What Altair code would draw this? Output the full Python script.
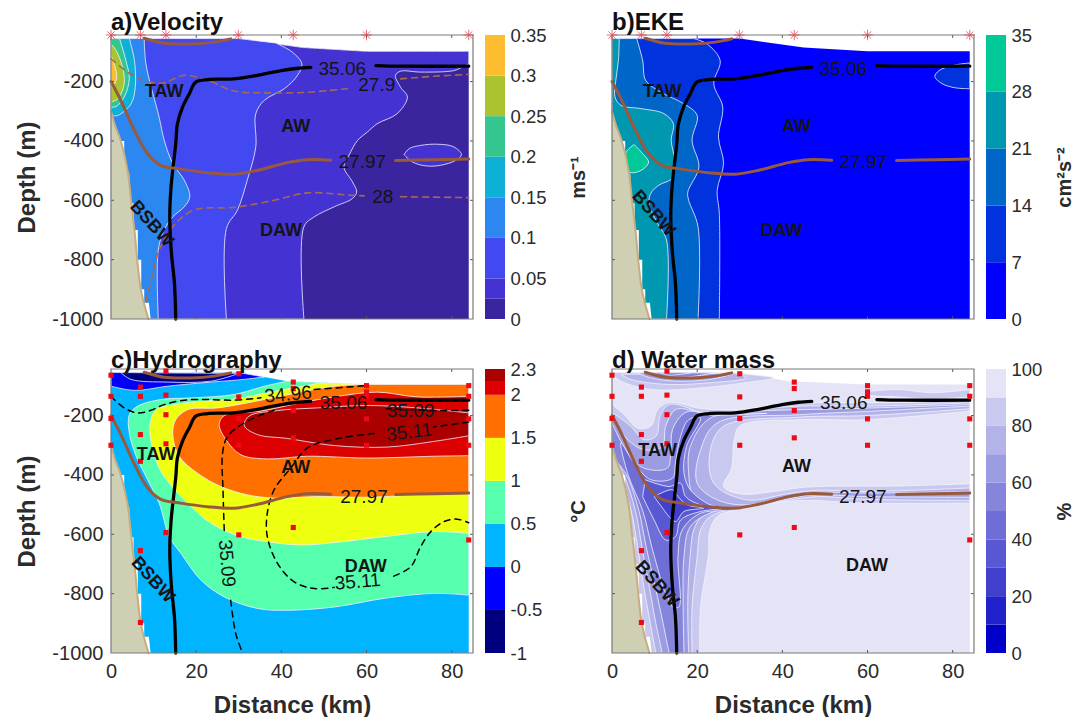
import altair as alt

FONT = "Liberation Sans"
W, H = 362, 284
XDOM, YDOM = [0, 85], [-1000, -43]
XT = [0, 20, 40, 60, 80]
YT = [-1000, -800, -600, -400, -200]

TOP = [(84, -98), (60, -98), (45, -85), (30, -55), (0, -55)]
TOPC = [(84, -95), (60, -95), (50, -89), (41.4, -84), (36, -70), (30, -55), (0, -55)]

# isolines shared by panels
S3506A = [(15.2, -1000), (14.9, -880), (14.2, -779), (13.8, -656), (14.1, -555), (15.2, -409), (15.6, -342), (16.8, -286), (18.4, -241), (19.9, -202), (22.7, -193), (28.9, -191), (34.4, -179), (39.9, -163), (43.8, -155), (46.9, -152)]
S3506B = [(62.2, -146), (68, -148), (84, -148)]
D2797A = [(0, -200), (2.3, -263), (5.5, -364), (8.6, -443), (11.7, -482), (16.4, -495), (22.7, -507), (28.9, -512), (34.4, -499), (41.4, -473), (46.1, -463), (51.6, -465)]
D2797B = [(66.8, -466), (75.8, -463), (84, -461)]
D279T = [(7.8, -54), (12.5, -71), (18.8, -73), (24.2, -67), (28.1, -56)]
D279A = [(0, -123), (3.9, -168), (7.8, -196), (12.1, -205), (17.2, -179), (22.7, -196), (28.9, -232), (36.7, -238), (46.1, -236), (55.5, -224)]
D279B = [(68, -191), (75.8, -182), (84, -176)]
D28A = [(8.2, -941), (9.8, -846), (11.3, -768), (14.5, -689), (19.5, -633), (28.9, -624), (38.3, -600), (46.1, -575), (56.3, -583), (59.4, -585)]
D28B = [(68, -588), (84, -591)]

LAND = [(0, -300), (1, -350), (2.3, -400), (3.9, -500), (4.7, -600), (5.5, -700), (7, -900), (8.8, -1000)]
STAIR = [(2.3, -400), (3.1, -400), (3.1, -510), (4.3, -510), (4.3, -610), (5.3, -610), (5.3, -700), (6.3, -700), (6.3, -800), (7.1, -800), (7.1, -900), (7.8, -900), (7.8, -945), (8.9, -945), (9.3, -1000), (8.8, -1000), (7, -900), (5.5, -700), (4.7, -600), (3.9, -500)]

STAR_X = [0, 6.9, 12.9, 29.9, 42.8, 60, 84]
STATIONS = {
    0: [-64, -135, -210, -300],
    6.9: [-104, -135, -264, -354, -655, -897],
    12.9: [-50, -131, -197, -295, -594],
    30: [-59, -137, -210, -300, -602],
    42.8: [-87, -109, -183, -275, -577],
    60: [-99, -120, -135, -211, -300],
    84: [-99, -135, -211, -300, -619],
}

# panel a
A_C = ["#3a259f", "#4433d2", "#4249f0", "#2c87f0", "#0fb0d5", "#35c690", "#aac430", "#fdbd30"]
A_B = [0, 0.025, 0.05, 0.1, 0.15, 0.2, 0.25, 0.3, 0.35]
A1 = [(45.3, -1000), (45.3, -689), (47.7, -656), (52.4, -622), (56.7, -594), (57.7, -572), (56.7, -538), (54.7, -488), (55.9, -448), (57.9, -398), (60.2, -370), (62.5, -342), (67.2, -308), (69.6, -252), (68, -219), (66.8, -179), (68, -165), (72.7, -168), (80.5, -163), (82.5, -151), (84, -140)]
A1E = [(84, -98), (60, -98), (45, -85), (30, -55), (0, -55), (0, -1000)]
A1B = [(68.8, -446), (70, -426), (72.7, -415), (76.6, -411), (80.5, -420), (82.3, -446), (81, -465), (77.4, -482), (73.9, -484), (70.8, -471), (68.8, -446)]
A2 = [(27.1, -1000), (27.1, -695), (29.7, -633), (32, -532), (34, -420), (34, -308), (36, -263), (40.7, -224), (43.8, -179), (44.8, -140), (42.6, -101), (38.7, -70)]
A2E = [(30, -55), (0, -55), (0, -1000)]
A3 = [(11.1, -1000), (11.1, -768), (12.5, -700), (14.5, -656), (17.2, -622), (18.5, -588), (17.2, -532), (14.5, -476), (12.5, -398), (11.3, -320), (8.2, -140), (7.8, -55)]
A3E = [(0, -55), (0, -1000)]
A4 = [(0, -314), (1.6, -314), (4.7, -275), (5.7, -219), (5.5, -129), (4.3, -55)]
A4E = [(0, -55)]
A5 = [(0, -286), (1.2, -284), (3.1, -252), (4.3, -191), (3.5, -129), (2, -55)]
A5E = [(0, -55)]
A6 = [(0, -269), (1.6, -258), (3.1, -207), (2.7, -151), (1.2, -95), (0, -73)]
A7 = [(0, -224), (1.3, -191), (0.9, -146), (0, -112)]

# panel b
B_C = ["#0000ff", "#0033dd", "#0066c8", "#0098b0", "#00c896"]
B_B = [0, 7, 14, 21, 28, 35]
B1 = [(25.2, -1000), (25.2, -644), (24.7, -566), (26.2, -476), (25, -387), (26, -286), (23.9, -207), (25.4, -129), (22.3, -73), (19.2, -55)]
B1E = [(0, -55), (0, -1000)]
B1B = [(84, -137), (79.9, -146), (76.8, -163), (75.8, -183), (77.5, -207), (80.6, -221), (84, -224)]
B2 = [(20.2, -1000), (20.2, -689), (18, -600), (17.8, -572), (20.4, -488), (18.8, -398), (20, -314), (16.9, -275), (11.4, -235), (7.9, -196), (7.2, -129), (5.8, -55)]
B2E = [(0, -55), (0, -1000)]
B3 = [(12.8, -1000), (12.8, -734), (10.7, -678), (8.7, -611), (9.1, -577), (11, -549), (14.2, -525), (14.7, -465), (13.9, -398), (14.4, -342), (12.2, -308), (6.8, -291), (2.1, -280), (0.7, -252), (0.9, -196), (1.5, -129), (1.7, -55)]
B3E = [(0, -55), (0, -1000)]
B4 = [(5.2, -412), (7.2, -443), (8.6, -471), (7.5, -493), (5.2, -507), (3.7, -501), (3, -448), (4, -426), (5.2, -412)]

# panel c
C_C = ["#00007f", "#0000ff", "#00b4ff", "#55ffae", "#efff10", "#ff7000", "#dd0000", "#aa0000"]
C_B = [-1, -0.5, 0, 0.5, 1, 1.5, 2, 2.15, 2.3]
C1 = [(41.4, -84), (36, -101), (28.9, -129), (19.5, -140), (11.7, -146), (6.3, -168), (4.3, -197), (4.3, -259), (5.9, -337), (8.6, -416), (11.3, -495), (13.7, -608), (16.4, -664), (21.1, -754), (26.6, -811), (34.4, -850), (41.4, -856), (52.4, -845), (64.1, -816), (75.8, -799), (84, -805)]
C1E = [(84, -95), (60, -95), (50, -89)]
C2 = [(48.5, -92), (36.7, -123), (28.9, -144), (21.1, -152), (14.9, -163), (10.6, -180), (9.2, -225), (9.4, -287), (11.3, -377), (13.7, -428), (18, -495), (23.5, -563), (30.5, -608), (36.7, -625), (44.6, -636), (52.4, -628), (64.1, -608), (75.8, -591), (84, -597)]
C2E = [(84, -95), (60, -95)]
C3 = [(60.2, -95), (53.9, -99), (47.7, -112), (36.7, -144), (25, -174), (18, -180), (15.2, -214), (14.5, -264), (16, -337), (20.3, -394), (25.8, -439), (32, -467), (38.3, -478), (48.5, -473), (60.2, -475), (75.8, -464), (84, -459)]
C3E = [(84, -95)]
C4 = [(84, -135), (71.9, -137), (62.5, -121), (52.4, -137), (44.6, -157), (35.2, -185), (26.6, -200), (25.4, -230), (27, -281), (30.5, -332), (36.7, -346), (46.1, -337), (60.2, -343), (75.8, -337), (84, -335)]
C5 = [(84, -191), (71.9, -174), (60.2, -166), (48.5, -174), (39.1, -183), (32.4, -202), (31.3, -234), (34.4, -264), (41.4, -277), (52.4, -301), (64.9, -306), (75.8, -287), (84, -268)]
C6 = [(0, -101), (5.5, -115), (13.3, -101), (21.1, -90), (30.5, -79), (36, -70)]
C6E = [(30, -55), (0, -55)]
C7 = [(2.3, -55), (4.7, -78), (13.3, -87), (23.5, -84), (30, -58)]
S3496A = [(0, -135), (3.1, -174), (6.3, -191), (9.4, -182), (12.5, -163), (17.2, -148), (22.7, -146), (28.9, -148), (35.2, -140)]
S3496B = [(47.7, -112), (60.2, -99)]
S3509A = [(84, -182), (77, -183), (64.1, -177)]
S3509B = [(38.3, -182), (32, -219), (27.4, -270), (26.2, -326), (26.3, -450), (26.6, -591)]
S3509C = [(28.1, -822), (29.3, -935), (30.9, -1000)]
S3511A = [(84, -222), (75.8, -238)]
S3511B = [(61.8, -260), (52.4, -280), (46.1, -309), (42.2, -377), (38.3, -450), (36.7, -529), (36.7, -608), (39.1, -698), (43, -760), (47.7, -783), (52.4, -779)]
S3511C = [(66.4, -741), (70.4, -709), (72.7, -642), (75.1, -591), (78.2, -557), (81.3, -549), (84, -561)]

# panel d
D_C = ["#0000c8", "#2222cc", "#4040cd", "#5858d2", "#6e6ed6", "#8585dc", "#9c9ce2", "#b3b3e9", "#c9c9ef", "#e4e4f6"]
D_B = [0, 10, 20, 30, 40, 50, 60, 70, 80, 90, 100]
D90 = [(20.6, -1000), (20.8, -845), (22.7, -664), (22.9, -591), (24.7, -540), (30.1, -515), (37.9, -495), (45.6, -486), (59.6, -495), (84, -495), (84, -430), (67.4, -437), (45.6, -441), (37.9, -456), (30.1, -464), (26.2, -439), (28.1, -377), (28.7, -281), (30.1, -234), (44.1, -214), (59.6, -214), (84, -185), (84, -146), (71.3, -155), (59.6, -157), (48, -157), (37.9, -166), (28.5, -180), (20, -174), (16.1, -159), (13, -157), (10.7, -180), (9.1, -236), (6, -242), (2.9, -197), (0, -163)]
D90T = [(0, -61), (2.1, -84), (9.1, -112), (20.8, -107), (30.9, -90), (37.9, -73), (31.6, -61)]
D90TE = [(28, -55), (0, -55)]
D90R = [(60.4, -118), (67.4, -112), (75.2, -123), (84, -112), (84, -137), (75.2, -144), (67.4, -137), (60.4, -129), (60.4, -118)]
D80 = [(18.8, -1000), (18.8, -845), (20, -675), (20.8, -585), (23.1, -540), (31.6, -506), (41, -486), (48, -473), (59.6, -482), (84, -486), (84, -444), (59.6, -456), (48, -452), (41, -464), (31.6, -484), (23.9, -428), (23.1, -315), (26.2, -236), (44.1, -205), (59.6, -200), (84, -177), (84, -157), (59.6, -168), (44.1, -168), (28.5, -185), (20.8, -189), (16.9, -169), (13.4, -163), (11.4, -197), (10.3, -270), (7.5, -281), (4.4, -236), (1.3, -202), (0, -193), (0, -315), (2, -400), (4.5, -520), (6, -640), (7.5, -780), (9, -900), (10.3, -1000)]
D80T = [(2.1, -61), (4.4, -78), (13, -95), (22.3, -90), (31.6, -73), (28.5, -56)]
D70 = [(18, -1000), (17.8, -822), (18.4, -664), (19.2, -585), (21.5, -535), (28.5, -512), (34.8, -501), (41, -482), (47.2, -467), (59.6, -473), (84, -475), (84, -456), (59.6, -461), (47.2, -459), (39.4, -478), (31.6, -501), (24.7, -484), (20, -428), (20.8, -315), (24.7, -225), (44.1, -197), (59.6, -186), (84, -168), (84, -163), (59.6, -175), (36.3, -183), (20.8, -193), (18, -180), (14.9, -180), (12.6, -236), (11.8, -304), (7.5, -315), (3.7, -281), (0, -208), (0, -326), (2.8, -400), (5.5, -520), (7, -640), (8.8, -780), (10.3, -900), (11.8, -1000)]
D70T = [(6, -56), (9.1, -73), (15.3, -84), (23.1, -78), (28.5, -59)]
D60 = [(16.9, -1000), (16.7, -822), (16.9, -675), (18.4, -574), (24, -523), (30.9, -512), (24, -505), (19.2, -473), (18, -394), (18.4, -304), (23.1, -208), (36.3, -193), (23, -198), (18.4, -185), (16.5, -197), (14.2, -247), (13.8, -326), (13, -377), (7.5, -377), (3.7, -326), (0, -225), (0, -337), (3.4, -400), (6.3, -520), (8, -640), (10.2, -780), (12, -900), (13.4, -1000)]
D60T = [(9.1, -56), (12.2, -69), (18.4, -69), (23.9, -56)]
D50 = [(14.2, -845), (15.7, -845), (15.5, -675), (16.5, -585), (20.8, -529), (28.5, -518), (23.1, -501), (18.4, -450), (16.9, -394), (17.5, -304), (20.8, -208), (18, -214), (16.1, -270), (14.9, -360), (14.2, -411), (9.1, -416), (5.2, -360), (2.1, -292), (3.8, -400), (7.2, -520), (9.3, -640), (12, -780)]
D50T = [(11.4, -56), (13, -63), (16.1, -61), (18.4, -56)]
D40 = [(7.8, -416), (13.4, -439), (16.1, -428), (17.3, -473), (20.8, -501), (26.2, -512), (20.8, -523), (16.1, -552), (14.9, -608), (12.6, -619), (9.9, -552), (7.2, -473)]
D30 = [(9.9, -473), (14.2, -450), (15.5, -473), (17.7, -501), (21.5, -512), (16.9, -523), (14.9, -557), (12.2, -518)]
D_BL = [(0, -1000)]

BLACK, BROWN, DBROWN = "#000000", "#99593d", "#a46a50"
CONT = "#f2f2ff"

def enc(xaxis=None, yaxis=None):
    return dict(
        x=alt.X("x:Q", scale=alt.Scale(domain=XDOM, nice=False, zero=False), axis=xaxis),
        y=alt.Y("y:Q", scale=alt.Scale(domain=YDOM, nice=False, zero=False), axis=yaxis),
    )

def rows(pts):
    return alt.Data(values=[{"x": p[0], "y": p[1], "i": k} for k, p in enumerate(pts)])

def poly(curve, edge, fill, line=True, interp="catmull-rom"):
    pts = []
    for p in curve:
        pts.append(p)
        if p[0] in (0, 84) or p[1] == -1000:
            pts.append(p)
    pts = [curve[0]] + pts + [curve[-1]]
    for e in edge:
        pts += [e, e]
    pts += [curve[0], curve[0]]
    kw = dict(stroke=CONT, strokeWidth=0.8) if line else dict(strokeWidth=0, stroke="transparent")
    return alt.Chart(rows(pts)).mark_line(fill=fill, interpolate=interp, **kw).encode(order="i:Q", **enc())

def line(pts, color, width, dash=None):
    kw = dict(strokeDash=dash) if dash else {}
    return alt.Chart(rows(pts)).mark_line(color=color, strokeWidth=width, interpolate="catmull-rom", strokeCap="round", **kw).encode(order="i:Q", **enc())

def label(x, y, txt, size=19, bold=False, angle=0, color="#141414"):
    return alt.Chart(rows([(x, y)])).mark_text(text=txt, font=FONT, fontSize=size, fontWeight="bold" if bold else "normal", angle=angle, color=color, align="center", baseline="middle").encode(**enc())

def land():
    return [
        poly(STAIR, [], "#ffffff", line=False, interp="linear"),
        poly(LAND, [(0, -1000)], "#cfcfb4", line=False),
        line(LAND, "#c8ad80", 2),
    ]

def frame():
    ticks = []
    for v in XT[1:]:
        ticks.append(((v, v), (-1000, -990)))
        ticks.append(((v, v), (-43, -53)))
    for v in YT[1:]:
        ticks.append(((0, 0.7), (v, v)))
        ticks.append(((85, 84.3), (v, v)))
    tick_rows = [{"x": a[0], "x2": a[1], "y": b[0], "y2": b[1]} for a, b in ticks]
    t = alt.Chart(alt.Data(values=tick_rows)).mark_rule(color="#555555", strokeWidth=1).encode(x2="x2:Q", y2="y2:Q", **enc())
    f = alt.Chart(rows([(0, -1000)])).mark_rect(fill=None, stroke="#7a7a7a", strokeWidth=1.2).encode(
        x=alt.datum(XDOM[0], scale=alt.Scale(domain=XDOM, nice=False, zero=False), axis=None),
        x2=alt.datum(XDOM[1]),
        y=alt.datum(YDOM[0], scale=alt.Scale(domain=YDOM, nice=False, zero=False), axis=None),
        y2=alt.datum(YDOM[1]),
    )
    return [t, f]

STAR = "M-1,0L1,0M0,-1L0,1M-0.7,-0.7L0.7,0.7M-0.7,0.7L0.7,-0.7"
def stars():
    return alt.Chart(rows([(x, -43) for x in STAR_X])).mark_point(shape=STAR, size=110, stroke="#e0303a", strokeWidth=1, filled=False).encode(**enc())

def squares():
    pts = [(x, d) for x, ds in STATIONS.items() for d in ds]
    return alt.Chart(rows(pts)).mark_square(size=26, color="#ee0a14", opacity=1).encode(**enc())

AX = dict(grid=False, domain=False, ticks=False, labelFont=FONT, labelColor="#2b2b2b", labelFlush=False,
          titleFont=FONT, titleFontWeight="bold", titleColor="#2b2b2b")

def axes(bottom, left):
    xa = alt.Axis(values=XT, orient="bottom", labelExpr="''+datum.value", title="Distance (km)", labelFontSize=20, titleFontSize=24, labelPadding=8, titlePadding=12, **AX) if bottom else None
    ya = alt.Axis(values=YT, orient="left", labelExpr="''+datum.value", title="Depth (m)", labelFontSize=20, titleFontSize=24, labelPadding=8, titlePadding=12, labelOverlap=False, **AX) if left else None
    return alt.Chart(rows([(0, -1000)])).mark_point(opacity=0).encode(**enc(xa, ya))

def panel(title, layers, bottom=False, left=False):
    return alt.layer(axes(bottom, left), *layers).resolve_axis(x="independent", y="independent").properties(
        width=W, height=H,
        title=alt.TitleParams(title, anchor="start", frame="group", font=FONT, fontSize=24, fontWeight="bold", color="#111111", offset=-7),
    )

def colorbar(bounds, colors, vals, title, tx):
    rs = [{"lo": a, "hi": b, "c": c} for a, b, c in zip(bounds[:-1], bounds[1:], colors)]
    ya = alt.Axis(values=vals, orient="right", labelExpr="''+datum.value", title=title, labelFontSize=18.5, titleFontSize=20, titleAngle=270, titleX=tx, titleY=H / 2, titleAlign="center", titleBaseline="middle", labelPadding=5, labelOverlap=False, labelBound=False, **AX)
    return alt.Chart(alt.Data(values=rs)).mark_rect().encode(
        x=alt.value(0), x2=alt.value(20),
        y=alt.Y("lo:Q", scale=alt.Scale(domain=[bounds[0], bounds[-1]], nice=False, zero=False), axis=ya),
        y2="hi:Q",
        color=alt.Color("c:N", scale=None),
    ).properties(width=20, height=H)

DOM = [(0, -1000), (84, -1000)]
dom_a = poly(DOM, TOP, A_C[0], line=False, interp="linear")
dom_b = poly(DOM, TOP, B_C[0], line=False, interp="linear")
dom_c = poly(DOM, TOPC, C_C[2], line=False, interp="linear")
dom_d = poly(DOM, TOPC, D_C[9], line=False, interp="linear")

def common():
    return [
        line(S3506A, BLACK, 3.3), line(S3506B, BLACK, 3.3),
        line(D2797A, BROWN, 3), line(D2797B, BROWN, 3), line(D279T, BROWN, 3),
    ]

WM = 18
pa = panel("a)Velocity", [
    dom_a,
    poly(A1, A1E, A_C[1]), poly(A1B, [], A_C[1]),
    poly(A2, A2E, A_C[2]), poly(A3, A3E, A_C[3]), poly(A4, A4E, A_C[4]),
    poly(A5, A5E, A_C[5]), poly(A6, [], A_C[6]), poly(A7, [], A_C[7]),
    *land(),
    line(D279A, DBROWN, 1.6, [6, 5]), line(D279B, DBROWN, 1.6, [6, 5]), line(D28A, DBROWN, 1.6, [6, 5]), line(D28B, DBROWN, 1.6, [6, 5]),
    *common(), *frame(), stars(),
    label(54.3, -157, "35.06"), label(59, -470, "27.97"), label(62.4, -213, "27.9"), label(63.8, -588, "28"),
    label(12.5, -235, "TAW", WM, True), label(43.4, -353, "AW", WM, True), label(39.9, -703, "DAW", WM, True), label(9.5, -680, "BSBW", WM, True, 48),
], left=True)
pb = panel("b)EKE", [
    dom_b,
    poly(B1, B1E, B_C[1]), poly(B1B, [], B_C[1]),
    poly(B2, B2E, B_C[2]), poly(B3, B3E, B_C[3]), poly(B4, [], B_C[4]),
    *land(), *common(), *frame(), stars(),
    label(54.3, -157, "35.06"), label(59, -470, "27.97"),
    label(11.8, -235, "TAW", WM, True), label(43.3, -353, "AW", WM, True), label(39.8, -703, "DAW", WM, True), label(9.7, -645, "BSBW", WM, True, 48),
])
DL = [S3496A, S3496B, S3509A, S3509B, S3509C, S3511A, S3511B, S3511C]
pc = panel("c)Hydrography", [
    dom_c,
    poly(C1, C1E, C_C[3]), poly(C2, C2E, C_C[4]), poly(C3, C3E, C_C[5]),
    poly(C4, [], C_C[6]), poly(C5, [], C_C[7]),
    poly(C6, C6E, C_C[1]), poly(C7, [], C_C[0]),
    *land(),
    *[line(p, BLACK, 1.5, [6, 5]) for p in DL],
    *common(), *frame(), squares(),
    label(41.6, -129, "34.96", angle=355), label(54.6, -157, "35.06"), label(70.4, -185, "35.09"), label(70, -256, "35.11", angle=353),
    label(27.2, -698, "35.09", angle=85), label(57.9, -760, "35.11", angle=355), label(59.4, -473, "27.97"),
    label(10.6, -332, "TAW", WM, True), label(43.4, -377, "AW", WM, True), label(59.8, -709, "DAW", WM, True), label(9.8, -754, "BSBW", WM, True, 48),
], bottom=True, left=True)
pd_ = panel("d) Water mass", [
    dom_d,
    poly(D90, D_BL, D_C[8]), poly(D90T, D90TE, D_C[8]), poly(D90R, [], D_C[8]),
    poly(D80, [], D_C[7]), poly(D80T, [], D_C[7]),
    poly(D70, [], D_C[6]), poly(D70T, [], D_C[6]),
    poly(D60, [], D_C[5]), poly(D60T, [], D_C[5]),
    poly(D50, [], D_C[4]), poly(D50T, [], D_C[4]),
    poly(D40, [], D_C[3]), poly(D30, [], D_C[2]),
    *land(), *common(), *frame(), squares(),
    label(54.4, -157, "35.06"), label(58.9, -473, "27.97"),
    label(10.7, -318, "TAW", WM, True), label(43.3, -374, "AW", WM, True), label(59.9, -706, "DAW", WM, True), label(10.5, -768, "BSBW", WM, True, 48),
], bottom=True)

cba = colorbar(A_B, A_C, [0, 0.05, 0.1, 0.15, 0.2, 0.25, 0.3, 0.35], "ms⁻¹", 73)
cbb = colorbar(B_B, B_C, [0, 7, 14, 21, 28, 35], "cm²s⁻²", 58)
cbc = colorbar(C_B, C_C, [-1, -0.5, 0, 0.5, 1, 1.5, 2, 2.3], "°C", 73)
cbd = colorbar(D_B, D_C, [0, 20, 40, 60, 80, 100], "%", 58)

def spacer():
    return alt.Chart(rows([(0, 0)])).mark_point(opacity=0).encode(
        x=alt.X("x:Q", axis=None), y=alt.Y("y:Q", axis=None)
    ).properties(width=83, height=H)

chart = alt.concat(
    pa, cba, spacer(), pb, cbb,
    pc, cbc, spacer(), pd_, cbd,
    columns=5, spacing=alt.RowColnumber(row=50, column=12), bounds="flush",
).properties(
    padding={"left": 7, "top": 2, "right": 2, "bottom": 0},
).configure_view(stroke=None)

chart.save("out.html", embed_options={"renderer": "svg", "actions": False})
